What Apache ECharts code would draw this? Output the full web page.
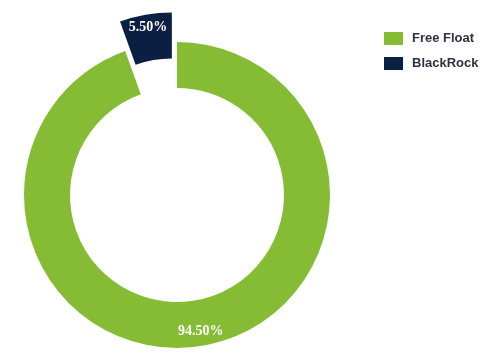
<!DOCTYPE html>
<html>
<head>
<meta charset="utf-8">
<script src="https://cdn.jsdelivr.net/npm/echarts@6/dist/echarts.min.js"></script>
<style>
html,body{margin:0;padding:0;background:#fff;}
#c{width:488px;height:357px;}
</style>
</head>
<body>
<div id="c"></div>
<script>
var categories = ['Free Float', 'BlackRock'];
var values = [94.5, 5.5];
var colors = ['#86bc34', '#0b1f42'];
var labelShift = [[1, 5], [-1, -7]];

var chart = echarts.init(document.getElementById('c'), null, {renderer: 'canvas'});
var data = categories.map(function (name, i) {
  return {
    name: name,
    value: values[i],
    selected: i === 1,
    itemStyle: {color: colors[i]}
  };
});
chart.setOption({
  animation: false,
  legend: {
    orient: 'vertical',
    left: 379,
    top: 27,
    itemWidth: 19,
    itemHeight: 13,
    itemGap: 12,
    icon: 'rect',
    selectedMode: false,
    data: categories,
    textStyle: {
      fontFamily: 'Liberation Sans, Arial, sans-serif',
      fontSize: 13,
      fontWeight: 'bold',
      color: '#2e3140',
      padding: [0, 0, 0, 4]
    }
  },
  series: [{
    type: 'pie',
    center: [177, 195],
    radius: [107, 153],
    startAngle: 90,
    clockwise: true,
    selectedMode: 'single',
    selectedOffset: 30,
    avoidLabelOverlap: false,
    label: {
      show: true,
      position: 'inside',
      formatter: function (p) { return p.value.toFixed(2) + '%'; },
      color: '#ffffff',
      fontFamily: 'Liberation Serif, Times New Roman, serif',
      fontWeight: 'bold',
      fontSize: 14
    },
    labelLayout: function (p) {
      var s = labelShift[p.dataIndex];
      return {dx: s[0], dy: s[1]};
    },
    labelLine: {show: false},
    emphasis: {disabled: true},
    data: data
  }]
});
</script>
</body>
</html>
